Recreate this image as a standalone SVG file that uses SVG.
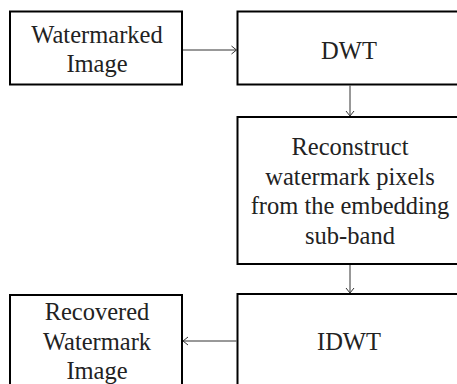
<svg xmlns="http://www.w3.org/2000/svg" width="457" height="384" viewBox="0 0 457 384">
<defs>
<marker id="ah" markerWidth="10" markerHeight="10" refX="8" refY="5" orient="auto" markerUnits="userSpaceOnUse">
<path d="M3,1 L8,5 L3,9" fill="none" stroke="#333" stroke-width="1"/>
</marker>
</defs>
<style>
.box{fill:#fff;stroke:#000;stroke-width:2}
.t{font-family:"Liberation Serif","Times New Roman",serif;font-size:24.5px;fill:#222;text-anchor:middle}
.c{stroke:#333;stroke-width:1;fill:none;marker-end:url(#ah)}
</style>
<rect width="457" height="384" fill="#fff"/>
<g id="watermarked">
<rect class="box" x="10" y="11.5" width="172" height="73"/>
<text class="t" x="97" y="42.5">Watermarked</text>
<text class="t" x="97" y="72">Image</text>
</g>
<g id="dwt">
<rect class="box" x="237.5" y="11.5" width="230" height="73"/>
<text class="t" x="349" y="58.5">DWT</text>
</g>
<g id="reconstruct">
<rect class="box" x="237.5" y="117" width="230" height="147"/>
<text class="t" x="350" y="155">Reconstruct</text>
<text class="t" x="350" y="184.5">watermark pixels</text>
<text class="t" x="350" y="213.5">from the embedding</text>
<text class="t" x="350" y="244">sub-band</text>
</g>
<g id="idwt">
<rect class="box" x="237.5" y="294" width="230" height="110"/>
<text class="t" x="349" y="350">IDWT</text>
</g>
<g id="recovered">
<rect class="box" x="10" y="295" width="172" height="110"/>
<text class="t" x="97" y="320">Recovered</text>
<text class="t" x="97" y="350">Watermark</text>
<text class="t" x="97" y="379">Image</text>
</g>
<g id="connectors">
<line class="c" x1="183" y1="50" x2="236.5" y2="50"/>
<line class="c" x1="350" y1="85.5" x2="350" y2="116"/>
<line class="c" x1="350" y1="265" x2="350" y2="293"/>
<line class="c" x1="236.5" y1="341" x2="183" y2="341"/>
</g>
</svg>
